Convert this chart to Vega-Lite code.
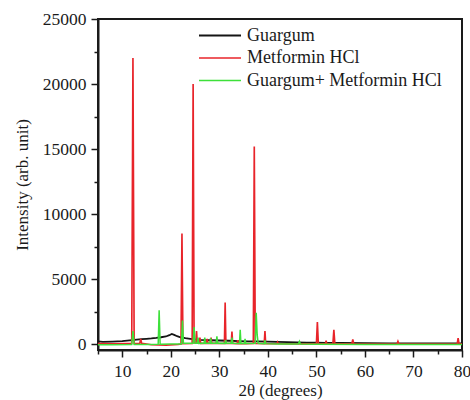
{
  "$schema": "https://vega.github.io/schema/vega-lite/v6.json",
  "width": 364,
  "height": 331,
  "autosize": {"type": "none"},
  "padding": {"left": 98, "top": 19, "right": 8, "bottom": 50},
  "background": "white",
  "config": {
    "view": {"stroke": "#1a1a1a", "strokeWidth": 2},
    "font": "Liberation Serif",
    "legend": {"labelFont": "Liberation Serif", "labelFontSize": 18, "labelColor": "#1a1a1a", "labelLimit": 300}
  },
  "data": {"values": [
    {"s":"Guargum","x":5,"y":200},{"s":"Guargum","x":6,"y":170},{"s":"Guargum","x":8,"y":190},{"s":"Guargum","x":10,"y":220},{"s":"Guargum","x":11,"y":260},{"s":"Guargum","x":12,"y":300},{"s":"Guargum","x":13,"y":340},{"s":"Guargum","x":14,"y":370},{"s":"Guargum","x":15,"y":400},{"s":"Guargum","x":16,"y":430},{"s":"Guargum","x":17,"y":470},{"s":"Guargum","x":18,"y":520},{"s":"Guargum","x":19,"y":580},{"s":"Guargum","x":19.7,"y":680},{"s":"Guargum","x":20.2,"y":780},{"s":"Guargum","x":20.7,"y":700},{"s":"Guargum","x":21.3,"y":600},{"s":"Guargum","x":22,"y":520},{"s":"Guargum","x":23,"y":450},{"s":"Guargum","x":24,"y":400},{"s":"Guargum","x":25,"y":350},{"s":"Guargum","x":26,"y":320},{"s":"Guargum","x":28,"y":290},{"s":"Guargum","x":30,"y":270},{"s":"Guargum","x":32,"y":250},{"s":"Guargum","x":34,"y":230},{"s":"Guargum","x":36,"y":210},{"s":"Guargum","x":38,"y":200},{"s":"Guargum","x":40,"y":180},{"s":"Guargum","x":42,"y":160},{"s":"Guargum","x":44,"y":140},{"s":"Guargum","x":46,"y":120},{"s":"Guargum","x":48,"y":110},{"s":"Guargum","x":50,"y":100},{"s":"Guargum","x":52,"y":90},{"s":"Guargum","x":55,"y":80},{"s":"Guargum","x":60,"y":60},{"s":"Guargum","x":65,"y":50},{"s":"Guargum","x":70,"y":40},{"s":"Guargum","x":75,"y":40},{"s":"Guargum","x":80,"y":40},
    {"s":"Metformin HCl","x":5,"y":30},{"s":"Metformin HCl","x":8,"y":20},{"s":"Metformin HCl","x":11,"y":30},{"s":"Metformin HCl","x":11.95,"y":40},{"s":"Metformin HCl","x":12.2,"y":22000},{"s":"Metformin HCl","x":12.45,"y":40},{"s":"Metformin HCl","x":13.6,"y":50},{"s":"Metformin HCl","x":13.8,"y":400},{"s":"Metformin HCl","x":14.0,"y":50},{"s":"Metformin HCl","x":16,"y":-60},{"s":"Metformin HCl","x":19,"y":-80},{"s":"Metformin HCl","x":21.5,"y":-40},{"s":"Metformin HCl","x":22.1,"y":0},{"s":"Metformin HCl","x":22.3,"y":8500},{"s":"Metformin HCl","x":22.5,"y":20},{"s":"Metformin HCl","x":24.4,"y":40},{"s":"Metformin HCl","x":24.6,"y":20000},{"s":"Metformin HCl","x":24.8,"y":80},{"s":"Metformin HCl","x":25.15,"y":80},{"s":"Metformin HCl","x":25.3,"y":1000},{"s":"Metformin HCl","x":25.45,"y":60},{"s":"Metformin HCl","x":25.85,"y":60},{"s":"Metformin HCl","x":26.0,"y":500},{"s":"Metformin HCl","x":26.15,"y":50},{"s":"Metformin HCl","x":27.35,"y":50},{"s":"Metformin HCl","x":27.5,"y":400},{"s":"Metformin HCl","x":27.65,"y":50},{"s":"Metformin HCl","x":28.15,"y":50},{"s":"Metformin HCl","x":28.3,"y":500},{"s":"Metformin HCl","x":28.45,"y":50},{"s":"Metformin HCl","x":29.35,"y":50},{"s":"Metformin HCl","x":29.5,"y":350},{"s":"Metformin HCl","x":29.65,"y":50},{"s":"Metformin HCl","x":31.05,"y":40},{"s":"Metformin HCl","x":31.2,"y":3200},{"s":"Metformin HCl","x":31.35,"y":40},{"s":"Metformin HCl","x":32.45,"y":40},{"s":"Metformin HCl","x":32.6,"y":950},{"s":"Metformin HCl","x":32.75,"y":40},{"s":"Metformin HCl","x":33.65,"y":30},{"s":"Metformin HCl","x":33.8,"y":300},{"s":"Metformin HCl","x":33.95,"y":30},{"s":"Metformin HCl","x":35.5,"y":30},{"s":"Metformin HCl","x":37.0,"y":40},{"s":"Metformin HCl","x":37.2,"y":15200},{"s":"Metformin HCl","x":37.4,"y":40},{"s":"Metformin HCl","x":39.25,"y":30},{"s":"Metformin HCl","x":39.4,"y":1000},{"s":"Metformin HCl","x":39.55,"y":30},{"s":"Metformin HCl","x":41.85,"y":20},{"s":"Metformin HCl","x":42.0,"y":150},{"s":"Metformin HCl","x":42.15,"y":20},{"s":"Metformin HCl","x":45,"y":10},{"s":"Metformin HCl","x":48,"y":10},{"s":"Metformin HCl","x":50.0,"y":20},{"s":"Metformin HCl","x":50.2,"y":1700},{"s":"Metformin HCl","x":50.4,"y":20},{"s":"Metformin HCl","x":51.85,"y":10},{"s":"Metformin HCl","x":52.0,"y":250},{"s":"Metformin HCl","x":52.15,"y":10},{"s":"Metformin HCl","x":53.4,"y":20},{"s":"Metformin HCl","x":53.6,"y":1100},{"s":"Metformin HCl","x":53.8,"y":20},{"s":"Metformin HCl","x":57.3,"y":10},{"s":"Metformin HCl","x":57.5,"y":350},{"s":"Metformin HCl","x":57.7,"y":10},{"s":"Metformin HCl","x":62,"y":0},{"s":"Metformin HCl","x":66.6,"y":0},{"s":"Metformin HCl","x":66.8,"y":200},{"s":"Metformin HCl","x":67.0,"y":0},{"s":"Metformin HCl","x":72,"y":0},{"s":"Metformin HCl","x":76,"y":0},{"s":"Metformin HCl","x":79.0,"y":0},{"s":"Metformin HCl","x":79.2,"y":450},{"s":"Metformin HCl","x":79.4,"y":0},{"s":"Metformin HCl","x":80,"y":20},
    {"s":"Guargum+ Metformin HCl","x":5,"y":-50},{"s":"Guargum+ Metformin HCl","x":8,"y":-60},{"s":"Guargum+ Metformin HCl","x":11.95,"y":-40},{"s":"Guargum+ Metformin HCl","x":12.2,"y":1000},{"s":"Guargum+ Metformin HCl","x":12.45,"y":-40},{"s":"Guargum+ Metformin HCl","x":15,"y":-40},{"s":"Guargum+ Metformin HCl","x":17.4,"y":-20},{"s":"Guargum+ Metformin HCl","x":17.6,"y":2600},{"s":"Guargum+ Metformin HCl","x":17.8,"y":-20},{"s":"Guargum+ Metformin HCl","x":20,"y":0},{"s":"Guargum+ Metformin HCl","x":22.2,"y":0},{"s":"Guargum+ Metformin HCl","x":22.4,"y":1800},{"s":"Guargum+ Metformin HCl","x":22.6,"y":50},{"s":"Guargum+ Metformin HCl","x":24.6,"y":50},{"s":"Guargum+ Metformin HCl","x":24.8,"y":1300},{"s":"Guargum+ Metformin HCl","x":25.0,"y":50},{"s":"Guargum+ Metformin HCl","x":25.45,"y":50},{"s":"Guargum+ Metformin HCl","x":25.6,"y":500},{"s":"Guargum+ Metformin HCl","x":25.75,"y":50},{"s":"Guargum+ Metformin HCl","x":26.85,"y":60},{"s":"Guargum+ Metformin HCl","x":27.0,"y":500},{"s":"Guargum+ Metformin HCl","x":27.15,"y":60},{"s":"Guargum+ Metformin HCl","x":28.05,"y":60},{"s":"Guargum+ Metformin HCl","x":28.2,"y":450},{"s":"Guargum+ Metformin HCl","x":28.35,"y":60},{"s":"Guargum+ Metformin HCl","x":29.35,"y":60},{"s":"Guargum+ Metformin HCl","x":29.5,"y":600},{"s":"Guargum+ Metformin HCl","x":29.65,"y":60},{"s":"Guargum+ Metformin HCl","x":31.15,"y":50},{"s":"Guargum+ Metformin HCl","x":31.3,"y":300},{"s":"Guargum+ Metformin HCl","x":31.45,"y":50},{"s":"Guargum+ Metformin HCl","x":32.45,"y":50},{"s":"Guargum+ Metformin HCl","x":32.6,"y":500},{"s":"Guargum+ Metformin HCl","x":32.75,"y":50},{"s":"Guargum+ Metformin HCl","x":34.15,"y":40},{"s":"Guargum+ Metformin HCl","x":34.3,"y":1100},{"s":"Guargum+ Metformin HCl","x":34.45,"y":40},{"s":"Guargum+ Metformin HCl","x":35.15,"y":40},{"s":"Guargum+ Metformin HCl","x":35.3,"y":400},{"s":"Guargum+ Metformin HCl","x":35.45,"y":40},{"s":"Guargum+ Metformin HCl","x":37.4,"y":50},{"s":"Guargum+ Metformin HCl","x":37.6,"y":2400},{"s":"Guargum+ Metformin HCl","x":37.8,"y":700},{"s":"Guargum+ Metformin HCl","x":38.0,"y":50},{"s":"Guargum+ Metformin HCl","x":39.25,"y":30},{"s":"Guargum+ Metformin HCl","x":39.4,"y":300},{"s":"Guargum+ Metformin HCl","x":39.55,"y":30},{"s":"Guargum+ Metformin HCl","x":42,"y":0},{"s":"Guargum+ Metformin HCl","x":46.3,"y":0},{"s":"Guargum+ Metformin HCl","x":46.5,"y":200},{"s":"Guargum+ Metformin HCl","x":46.7,"y":0},{"s":"Guargum+ Metformin HCl","x":50,"y":-20},{"s":"Guargum+ Metformin HCl","x":60,"y":-30},{"s":"Guargum+ Metformin HCl","x":70,"y":-30},{"s":"Guargum+ Metformin HCl","x":80,"y":-30}
  ]},
  "mark": {"type": "line", "interpolate": "linear", "clip": true},
  "encoding": {
    "x": {
      "field": "x", "type": "quantitative",
      "scale": {"domain": [5, 80], "nice": false, "zero": false},
      "axis": {
        "title": "2θ (degrees)",
        "values": [5,10,15,20,25,30,35,40,45,50,55,60,65,70,75,80],
        "labelExpr": "datum.value % 10 === 0 ? datum.label : ''",
        "tickSize": {"condition": {"test": "datum.value % 10 === 0", "value": 7}, "value": 4},
        "domainColor": "#1a1a1a", "domainWidth": 2, "tickColor": "#1a1a1a", "tickWidth": 1.5, "grid": false,
        "labelFont": "Liberation Serif", "labelFontSize": 17.5, "labelColor": "#1a1a1a",
        "titleFont": "Liberation Serif", "titleFontSize": 17, "titleFontWeight": "normal", "titleColor": "#1a1a1a",
        "labelPadding": 5, "titlePadding": 3, "labelFlush": false, "labelOverlap": false
      }
    },
    "y": {
      "field": "y", "type": "quantitative",
      "scale": {"domain": [-460, 25000], "nice": false, "zero": false},
      "axis": {
        "title": "Intensity (arb. unit)",
        "values": [0,2500,5000,7500,10000,12500,15000,17500,20000,22500,25000],
        "format": "d",
        "labelExpr": "datum.value % 5000 === 0 ? datum.label : ''",
        "tickSize": {"condition": {"test": "datum.value % 5000 === 0", "value": 7}, "value": 4},
        "domainColor": "#1a1a1a", "domainWidth": 2, "tickColor": "#1a1a1a", "tickWidth": 1.5, "grid": false,
        "labelFont": "Liberation Serif", "labelFontSize": 17.5, "labelColor": "#1a1a1a",
        "titleFont": "Liberation Serif", "titleFontSize": 17, "titleFontWeight": "normal", "titleColor": "#1a1a1a",
        "labelPadding": 5, "titlePadding": 11, "labelFlush": false, "labelOverlap": false
      }
    },
    "color": {
      "field": "s", "type": "nominal", "sort": ["Guargum", "Metformin HCl", "Guargum+ Metformin HCl"],
      "scale": {"domain": ["Guargum", "Metformin HCl", "Guargum+ Metformin HCl"], "range": ["#151515", "#e8242a", "#3de03a"]},
      "legend": {
        "title": null, "orient": "none", "legendX": 121, "legendY": 5,
        "symbolType": "M-3,0H1", "symbolSize": 441, "symbolStrokeWidth": 1.8,
        "labelOffset": 5, "rowPadding": 1.5, "padding": 0
      }
    },
    "strokeWidth": {
      "field": "s", "type": "nominal",
      "scale": {"domain": ["Guargum", "Metformin HCl", "Guargum+ Metformin HCl"], "range": [1.8, 1.5, 2.6]},
      "legend": null
    }
  }
}
